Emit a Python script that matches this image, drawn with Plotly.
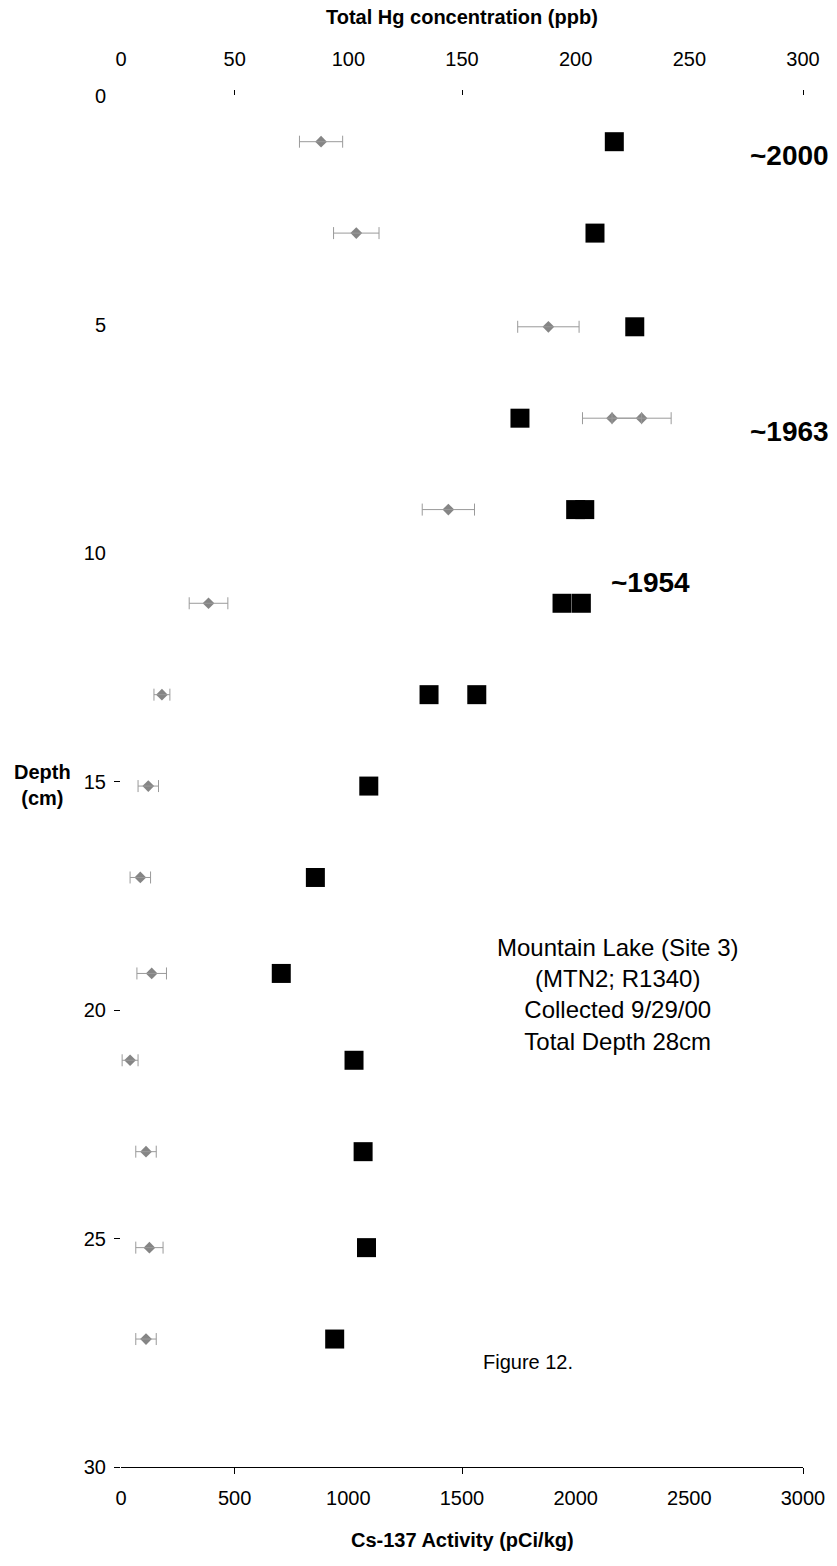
import plotly.graph_objects as go

# Sediment core MTN2 (Mountain Lake, Site 3): depth profiles
# Cs-137 activity (pCi/kg) with counting uncertainty
cs_depth = [1.0, 3.0, 5.05, 7.05, 7.05, 9.05, 11.1, 13.1, 15.1, 17.1, 19.2, 21.1, 23.1, 25.2, 27.2]
cs_activity = [880, 1035, 1880, 2160, 2290, 1440, 385, 180, 120, 85, 135, 40, 110, 125, 110]
cs_error = [95, 100, 135, 130, 130, 115, 85, 35, 45, 45, 65, 35, 45, 60, 45]

# Total Hg concentration (ppb); replicate analyses at 9, 11 and 13 cm
hg_depth = [1.0, 3.0, 5.05, 7.05, 9.05, 11.1, 13.1, 15.1, 17.1, 19.2, 21.1, 23.1, 25.2, 27.2]
hg_conc = [217, 208.5, 226, 175.5, 200, 194, 135.5, 109, 85.5, 70.5, 102.5, 106.5, 108, 94]
hg_rep_depth = [9.05, 11.1, 13.1]
hg_rep_conc = [204, 202.5, 156.5]

depth_ticks = [0, 5, 10, 15, 20, 25, 30]
depth_marks = [15, 20, 25, 30]
cs_ticks = [0, 500, 1000, 1500, 2000, 2500, 3000]
cs_marks = [500, 1500, 3000]
hg_ticks = [0, 50, 100, 150, 200, 250, 300]
hg_marks = [50, 150, 300]

FONT = "Liberation Sans, Arial, sans-serif"

fig = go.Figure()

# Cs-137 uncertainty bars (drawn on the tick-mark axes x3/y2)
fig.add_trace(go.Scatter(
    x=cs_activity, y=cs_depth, mode="markers", xaxis="x3", yaxis="y2",
    marker=dict(size=1, color="rgba(0,0,0,0)"),
    error_x=dict(type="data", array=cs_error, visible=True,
                 color="#9a9a9a", thickness=1, width=6),
    showlegend=False, hoverinfo="skip",
))

# Cs-137 activity
fig.add_trace(go.Scatter(
    x=cs_activity, y=cs_depth, mode="markers", xaxis="x", yaxis="y",
    marker=dict(symbol="diamond", size=9, color="#858585"),
    showlegend=False, hoverinfo="x+y",
))

# Total Hg
fig.add_trace(go.Scatter(
    x=hg_conc, y=hg_depth, mode="markers", xaxis="x2", yaxis="y",
    marker=dict(symbol="square", size=19, color="black", line=dict(width=0)),
    showlegend=False, hoverinfo="x+y",
))

# Total Hg replicates (on the top tick-mark axis, same scale as x2)
fig.add_trace(go.Scatter(
    x=hg_rep_conc, y=hg_rep_depth, mode="markers", xaxis="x4", yaxis="y",
    marker=dict(symbol="square", size=19, color="black", line=dict(width=0)),
    showlegend=False, hoverinfo="x+y",
))

tickfont = dict(family=FONT, size=20, color="black")
plain = dict(showgrid=False, zeroline=False)

fig.update_layout(
    width=837, height=1566, autosize=False,
    margin=dict(l=121, r=27, t=96, b=99),
    paper_bgcolor="white", plot_bgcolor="white",
    font=dict(family=FONT, color="black"),
    xaxis=dict(range=[0, 3000], tickvals=cs_ticks, ticks="",
               showline=True, linecolor="black", linewidth=1,
               tickfont=tickfont, ticklabelstandoff=13, **plain),
    xaxis2=dict(range=[0, 300], tickvals=hg_ticks, ticks="",
                overlaying="x", side="top", anchor="y",
                showline=False, tickfont=tickfont,
                ticklabelstandoff=25, **plain),
    xaxis3=dict(range=[0, 3000], tickvals=cs_marks,
                overlaying="x", side="bottom", anchor="y2",
                ticks="outside", ticklen=6, tickcolor="black",
                showticklabels=False, showline=False, **plain),
    xaxis4=dict(range=[0, 300], tickvals=hg_marks,
                overlaying="x", side="top", anchor="y",
                ticks="outside", ticklen=5, tickcolor="black",
                showticklabels=False, showline=False, **plain),
    yaxis=dict(range=[30, 0], tickvals=depth_ticks, ticks="",
               showline=False, tickfont=tickfont,
               ticklabelstandoff=14, **plain),
    yaxis2=dict(range=[30, 0], tickvals=depth_marks,
                overlaying="y", side="left", anchor="x3",
                ticks="outside", ticklen=6, tickcolor="black",
                showticklabels=False, showline=False, **plain),
)

annotations = [
    dict(text="<b>Total Hg concentration (ppb)</b>", xref="paper", yref="paper",
         x=0.5, y=1.0576, font=dict(size=20)),
    dict(text="<b>Cs-137 Activity (pCi/kg)</b>", xref="paper", yref="paper",
         x=0.5, y=-0.0532, font=dict(size=20)),
    dict(text="<b>Depth<br>(cm)</b>", xref="paper", yref="paper",
         x=-0.115, y=0.4975, font=dict(size=20)),
    dict(text="<b>~2000</b>", xref="paper", yref="y", x=0.98, y=1.3,
         font=dict(size=28)),
    dict(text="<b>~1963</b>", xref="paper", yref="y", x=0.98, y=7.35,
         font=dict(size=28)),
    dict(text="<b>~1954</b>", xref="paper", yref="y", x=0.776, y=10.65,
         font=dict(size=28)),
    dict(text="Mountain Lake (Site 3)<br>(MTN2; R1340)<br>Collected 9/29/00<br>Total Depth 28cm",
         xref="paper", yref="y", x=0.728, y=19.65, align="center",
         font=dict(size=24)),
    dict(text="Figure 12.", xref="paper", yref="y", x=0.597, y=27.7,
         font=dict(size=20)),
]
for a in annotations:
    a["showarrow"] = False
    a["xanchor"] = "center"
    a["yanchor"] = "middle"
    a["font"]["family"] = FONT
    a["font"]["color"] = "black"
fig.update_layout(annotations=annotations)

fig.write_html("out.html")
